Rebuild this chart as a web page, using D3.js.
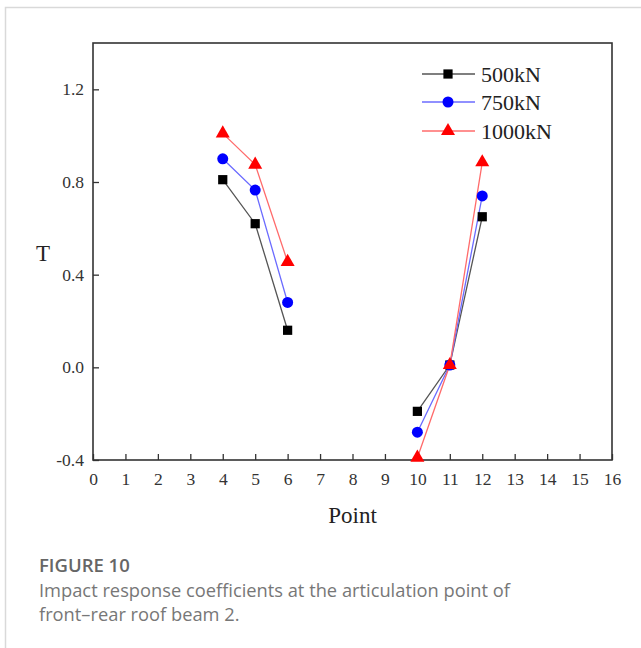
<!DOCTYPE html>
<html>
<head>
<meta charset="utf-8">
<script src="https://cdn.jsdelivr.net/npm/d3@7"></script>
<style>
  body { margin: 0; background: #fff; }
  svg { display: block; }
</style>
</head>
<body>
<div id="chart"></div>
<script>
// data (gap between point 6 and 10)
var points = [4, 5, 6, 10, 11, 12];
var t500 = [0.81, 0.62, 0.16, -0.19, 0.01, 0.65];
var t750 = [0.90, 0.765, 0.28, -0.28, 0.01, 0.74];
var t1000 = [1.01, 0.875, 0.455, -0.39, 0.01, 0.885];
var seriesNames = ["500kN", "750kN", "1000kN"];
var xTicks = d3.range(0, 17);
var yTicks = [-0.4, 0.0, 0.4, 0.8, 1.2];

function init() {
    var w = 641, h = 648;
    var left = 93, right = 612, top = 43, bottom = 460;

    var svg = d3.select("#chart").append("svg")
        .attr("width", w)
        .attr("height", h);

    // card border (top + left only visible)
    svg.append("path")
        .attr("d", "M5.5," + h + "V7.5H" + w)
        .attr("fill", "none")
        .attr("stroke", "#d9d9d9")
        .attr("stroke-width", 1.5);

    var xScale = d3.scaleLinear().domain([0, 16]).range([left, right]);
    var yScale = d3.scaleLinear().domain([-0.4, 1.4]).range([bottom, top]);

    var xAxis = d3.axisBottom(xScale).tickValues(xTicks).tickSizeInner(-6).tickSizeOuter(0).tickPadding(10)
        .tickFormat(d3.format("d"));
    var yAxis = d3.axisLeft(yScale).tickValues(yTicks).tickSizeInner(-6).tickSizeOuter(0).tickPadding(9)
        .tickFormat(function(d) { return d.toFixed(1); }); // plain hyphen like the original

    var gx = svg.append("g").attr("transform", "translate(0," + bottom + ")").call(xAxis);
    var gy = svg.append("g").attr("transform", "translate(" + left + ",0)").call(yAxis);

    [gx, gy].forEach(function(g) {
        g.select(".domain").remove();
        g.selectAll("line").attr("stroke", "#333").attr("stroke-width", 1.3);
        g.selectAll("text")
            .attr("fill", "#333")
            .style("font-family", "'Liberation Serif', serif")
            .style("font-size", "17.5px");
    });
    gx.selectAll("text").attr("dy", "0.85em");

    // frame
    svg.append("rect")
        .attr("x", left).attr("y", top)
        .attr("width", right - left).attr("height", bottom - top)
        .attr("fill", "none")
        .attr("stroke", "#333")
        .attr("stroke-width", 1.6);

    // axis titles
    svg.append("text")
        .attr("x", (left + right) / 2).attr("y", 523)
        .attr("text-anchor", "middle")
        .attr("fill", "#222")
        .style("font-family", "'Liberation Serif', serif")
        .style("font-size", "23px")
        .text("Point");
    svg.append("text")
        .attr("x", 43).attr("y", 261)
        .attr("text-anchor", "middle")
        .attr("fill", "#222")
        .style("font-family", "'Liberation Serif', serif")
        .style("font-size", "23px")
        .text("T");

    var series = [
        { name: seriesNames[0], values: t500, color: "#000", line: "#555", shape: d3.symbolSquare, size: 85 },
        { name: seriesNames[1], values: t750, color: "#0000ff", line: "#6b6bff", shape: d3.symbolCircle, size: 95 },
        { name: seriesNames[2], values: t1000, color: "#ff0000", line: "#ff6b6b", shape: d3.symbolTriangle, size: 85 }
    ];

    var line = d3.line()
        .x(function(d) { return xScale(d.x); })
        .y(function(d) { return yScale(d.y); });

    series.forEach(function(s) {
        var pts = points.map(function(p, i) { return { x: p, y: s.values[i] }; });
        // split into two runs: 4-6 and 10-12
        var runs = [pts.slice(0, 3), pts.slice(3)];
        runs.forEach(function(r) {
            svg.append("path")
                .attr("d", line(r))
                .attr("fill", "none")
                .attr("stroke", s.line)
                .attr("stroke-width", 1.3);
        });
    });
    series.forEach(function(s) {
        svg.selectAll(null)
            .data(points.map(function(p, i) { return { x: p, y: s.values[i] }; }))
            .enter()
            .append("path")
            .attr("d", d3.symbol().type(s.shape).size(s.size))
            .attr("transform", function(d) { return "translate(" + xScale(d.x) + "," + yScale(d.y) + ")"; })
            .attr("fill", s.color);
    });

    // legend
    var legendY = [74, 102, 131];
    series.forEach(function(s, i) {
        var g = svg.append("g").attr("transform", "translate(0," + legendY[i] + ")");
        g.append("line").attr("x1", 422).attr("x2", 475).attr("y1", 0).attr("y2", 0)
            .attr("stroke", s.line).attr("stroke-width", 1.3);
        g.append("path").attr("d", d3.symbol().type(s.shape).size(s.size))
            .attr("transform", "translate(448,0)").attr("fill", s.color);
        g.append("text").attr("x", 481).attr("y", 7.5)
            .attr("fill", "#222")
            .style("font-family", "'Liberation Serif', serif")
            .style("font-size", "22px")
            .text(s.name);
    });

    // caption
    svg.append("text")
        .attr("x", 39).attr("y", 572)
        .attr("fill", "#666")
        .style("font-family", "'Open Sans', sans-serif")
        .style("font-size", "18.5px")
        .style("font-weight", "600")
        .text("FIGURE 10");
    svg.append("text")
        .attr("x", 39).attr("y", 597)
        .attr("fill", "#777")
        .style("font-family", "'Open Sans', sans-serif")
        .style("font-size", "18.3px")
        .text("Impact response coefficients at the articulation point of");
    svg.append("text")
        .attr("x", 39).attr("y", 621)
        .attr("fill", "#777")
        .style("font-family", "'Open Sans', sans-serif")
        .style("font-size", "18.3px")
        .text("front\u2013rear roof beam 2.");
}

window.onload = init;
</script>
</body>
</html>
